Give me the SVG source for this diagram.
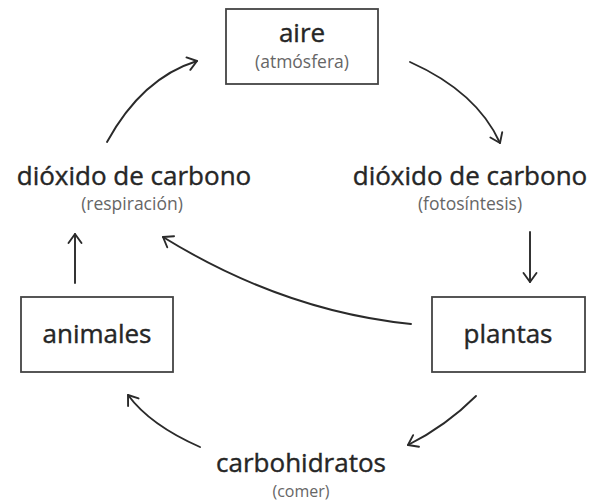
<svg xmlns="http://www.w3.org/2000/svg" width="593" height="502" viewBox="0 0 593 502">
<style>
.box{fill:#fff;stroke:#444;stroke-width:1.8}
.main{font-family:"Open Sans","Noto Sans",sans-serif;font-size:26px;fill:#262626;stroke:#262626;stroke-width:0.4;text-anchor:middle}
.sub{font-family:"Open Sans","Noto Sans",sans-serif;font-size:17.5px;fill:#666;text-anchor:middle}
.arr{fill:none;stroke:#2a2a2a;stroke-width:1.9;stroke-linecap:round;marker-end:url(#ah)}
</style>
<defs>
<marker id="ah" markerWidth="16" markerHeight="16" viewBox="-11 -8 13 16" refX="0" refY="0" orient="auto" markerUnits="userSpaceOnUse">
<path d="M-9,-6.5 L0,0 L-9,6.5" fill="none" stroke="#2a2a2a" stroke-width="1.9" stroke-linecap="round" stroke-linejoin="round"/>
</marker>
</defs>
<rect width="593" height="502" fill="#fff"/>
<g id="aire">
<rect class="box" x="226" y="9" width="152" height="75"/>
<text class="main" x="302" y="42">aire</text>
<text class="sub" x="302" y="68">(atmósfera)</text>
</g>
<g id="co2-respiracion">
<text class="main" x="134" y="185">dióxido de carbono</text>
<text class="sub" x="132" y="210">(respiración)</text>
</g>
<g id="co2-fotosintesis">
<text class="main" x="470" y="185">dióxido de carbono</text>
<text class="sub" x="470" y="210">(fotosíntesis)</text>
</g>
<g id="animales">
<rect class="box" x="21" y="297" width="152" height="75"/>
<text class="main" x="97" y="343">animales</text>
</g>
<g id="plantas">
<rect class="box" x="432" y="297" width="153" height="75"/>
<text class="main" x="508" y="343">plantas</text>
</g>
<g id="carbohidratos">
<text class="main" x="301" y="472">carbohidratos</text>
<text class="sub" x="301" y="497" style="font-size:16px">(comer)</text>
</g>
<g id="connectors">
<path class="arr" d="M107,142 Q142,78 197,61"/>
<path class="arr" d="M410,62 Q477,92 500,143"/>
<path class="arr" d="M530,232 L530,282"/>
<path class="arr" d="M75,283 L75,234"/>
<path class="arr" d="M411,324 Q283,311 163,237"/>
<path class="arr" d="M476,396 Q446,426 408,445"/>
<path class="arr" d="M200,447 Q150,425 128,395"/>
</g>
</svg>
